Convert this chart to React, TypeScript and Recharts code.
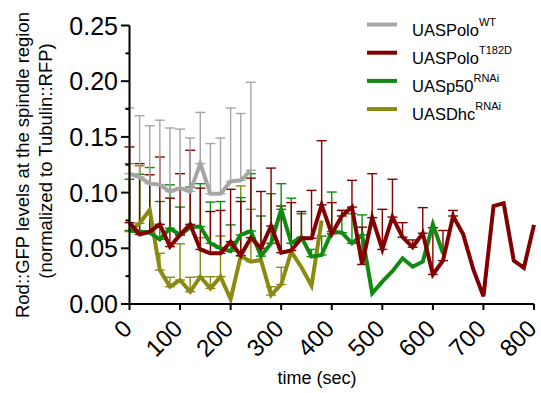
import React from 'react';
import { LineChart, Line, XAxis, YAxis, ErrorBar, Legend } from 'recharts';

const TIME = [0, 20, 40, 60, 80, 100, 120, 140, 160, 180, 200, 220, 240, 260, 280, 300, 320, 340, 360, 380, 400, 420, 440, 460, 480, 500, 520, 540, 560, 580, 600, 620, 640, 660, 680, 700, 720, 740, 760, 780, 800];

const X_TICKS = [0, 100, 200, 300, 400, 500, 600, 700, 800];
const Y_TICKS = [0, 0.025, 0.05, 0.075, 0.1, 0.125, 0.15, 0.175, 0.2, 0.225, 0.25];

// UASPolo WT
const WT_MEAN = [0.117, 0.114, 0.108, 0.107, 0.101, 0.104, 0.101, 0.126, 0.099, 0.099, 0.110, 0.111, 0.120];
const WT_SD = [0.059, 0.055, 0.052, 0.058, 0.057, 0.053, 0.048, 0.046, 0.045, 0.050, 0.066, 0.060, 0.079];

// UASPolo T182D
const T182D_MEAN = [0.073, 0.0625, 0.065, 0.0715, 0.0515, 0.062, 0.0715, 0.049, 0.0455, 0.0455, 0.056, 0.0435, 0.0595, 0.050, 0.070, 0.046, 0.048, 0.059, 0.059, 0.089, 0.063, 0.079, 0.087, 0.0355, 0.0775, 0.049, 0.078, 0.060, 0.051, 0.0635, 0.0265, 0.039, 0.079, 0.0625, 0.031, 0.007, 0.088, 0.0905, 0.039, 0.0325, 0.071];
const T182D_SD = [0.068, 0.0635, 0.051, 0.0605, 0.0435, 0.055, 0.0665, 0.055, 0.0375, 0.0385, 0.047, 0.0485, 0.0535, 0.051, 0.052, 0.042, 0.043, 0.024, 0.043, 0.0576, 0.028, 0.005, 0.024, 0.0335, 0.0395, 0.036, 0.034, 0.013, 0.0065, 0.023, 0.042, 0.027, 0.005, null, null, null, null, null, null, null, null];

// UASp50 RNAi
const P50_MEAN = [0.066, 0.065, 0.064, 0.058, 0.068, 0.062, 0.069, 0.0695, 0.0545, 0.050, 0.0475, 0.062, 0.0655, 0.043, 0.0545, 0.085, 0.0545, 0.060, 0.0425, 0.044, 0.065, 0.064, 0.0545, 0.062, 0.0096, 0.020, 0.0295, 0.041, 0.0335, 0.038, 0.0715, 0.0455];
const P50_SD = [0.046, 0.0515, 0.0585, 0.034, 0.039, 0.025, 0.036, 0.0385, 0.037, 0.042, 0.0235, 0.0335, 0.0515, 0.036, 0.0445, 0.023, 0.0405, 0.021, 0.0065, 0.017, 0.0355, 0.020, 0.0265, 0.018, null, null, null, null, null, null, null, null];

// UASDhc RNAi
const DHC_MEAN = [0.065, 0.0725, 0.0845, 0.0305, 0.0155, 0.0215, 0.011, 0.0245, 0.014, 0.0245, 0.0045, 0.043, 0.038, 0.0395, 0.008, 0.0175, 0.047, 0.033, 0.0165, 0.075];
const DHC_SD = [0.061, 0.0515, null, 0.015, 0.0085, 0.0325, 0.013, 0.035, 0.0105, 0.0365, null, 0.063, 0.047, null, 0.0075, 0.0155, null, null, null, null];

const SERIES_NAMES = ['UASPolo', 'UASPolo', 'UASp50', 'UASDhc'];
const SERIES_SUPS = ['WT', 'T182D', 'RNAi', 'RNAi'];
const COLORS = ['#a6a6a6', '#820000', '#118a11', '#8a8a12'];

const FONT = '"Liberation Sans", Arial, Helvetica, sans-serif';

function build(mean: number[], sd: (number | null)[]) {
  return mean.map((v, i) => ({
    t: TIME[i],
    v,
    e: sd[i] != null ? [0, sd[i] as number] : undefined,
  }));
}

const wtData = build(WT_MEAN, WT_SD);
const t182Data = build(T182D_MEAN, T182D_SD);
const p50Data = build(P50_MEAN, P50_SD);
const dhcData = build(DHC_MEAN, DHC_SD);

const SERIES = [
  { data: wtData, color: COLORS[0], name: 'UASPolo WT' },
  { data: t182Data, color: COLORS[1], name: 'UASPolo T182D' },
  { data: p50Data, color: COLORS[2], name: 'UASp50 RNAi' },
  { data: dhcData, color: COLORS[3], name: 'UASDhc RNAi' },
];
const DRAW_ORDER = [3, 2, 1, 0];

const PLOT_LEFT = 129.5;

const YTick = (props: any) => {
  const { y, payload } = props;
  const v = payload.value as number;
  const major = Math.abs(v * 20 - Math.round(v * 20)) < 1e-6;
  return (
    <g>
      <line x1={major ? 121 : 125.5} x2={PLOT_LEFT} y1={y} y2={y} stroke="#000" strokeWidth={2} />
      {major && (
        <text x={118} y={y} dy={9} textAnchor="end" fontSize={25} fill="#000" fontFamily={FONT}>
          {v.toFixed(2)}
        </text>
      )}
    </g>
  );
};

const XTick = (props: any) => {
  const { x, payload } = props;
  const ax = x + 4;
  const ay = 330;
  return (
    <text x={ax} y={ay} transform={`rotate(-45 ${ax} ${ay})`} textAnchor="end" fontSize={24} fill="#000" fontFamily={FONT}>
      {payload.value}
    </text>
  );
};

const YTitle = () => (
  <g fontFamily={FONT} fontSize={18.5} fill="#000">
    <text transform="translate(29,165) rotate(-90)" textAnchor="middle">Rod::GFP levels at the spindle region</text>
    <text transform="translate(52,161) rotate(-90)" textAnchor="middle">(normalized to Tubulin::RFP)</text>
  </g>
);

const XTitle = () => (
  <text x={317} y={384} textAnchor="middle" fontSize={18} fill="#000" fontFamily={FONT}>
    time (sec)
  </text>
);

const LegendBox = () => (
  <svg width={181} height={125} style={{ display: 'block' }}>
    {SERIES_NAMES.map((name, i) => {
      const y = 24.5 + i * 28.2;
      return (
        <g key={i}>
          <line x1={7} x2={37} y1={y} y2={y} stroke={COLORS[i]} strokeWidth={4} />
          <text x={52} y={y + 11} fontSize={16.5} fill="#000" fontFamily={FONT}>
            {name}
            <tspan fontSize={11} dy={-10}>{SERIES_SUPS[i]}</tspan>
          </text>
        </g>
      );
    })}
  </svg>
);

export default function App() {
  return (
    <div style={{ position: 'absolute', left: 0, top: 0, width: 541, height: 393, background: '#fff' }}>
      <LineChart width={541} height={393} margin={{ top: 25.5, right: 7, bottom: 29, left: 0 }}>
        <XAxis
          type="number"
          dataKey="t"
          domain={[0, 800]}
          ticks={X_TICKS}
          interval={0}
          height={60}
          tickSize={6}
          axisLine={{ stroke: '#000', strokeWidth: 2 }}
          tickLine={{ stroke: '#000', strokeWidth: 2 }}
          tick={<XTick />}
          label={<XTitle />}
          allowDuplicatedCategory={false}
        />
        <YAxis
          type="number"
          domain={[0, 0.25]}
          ticks={Y_TICKS}
          interval={0}
          width={129.5}
          axisLine={{ stroke: '#000', strokeWidth: 2 }}
          tickLine={false}
          tick={<YTick />}
          label={<YTitle />}
        />
        <Legend
          layout="vertical"
          align="center"
          verticalAlign="middle"
          content={<LegendBox />}
          wrapperStyle={{ position: 'absolute', left: 360, top: 0, width: 181, height: 125 }}
        />
        {DRAW_ORDER.map((i) => (
          <Line
            key={'err' + i}
            data={SERIES[i].data}
            dataKey="v"
            name={SERIES[i].name + ' SD'}
            type="linear"
            stroke="none"
            strokeWidth={0}
            dot={false}
            activeDot={false}
            legendType="none"
            isAnimationActive={false}
          >
            <ErrorBar dataKey="e" direction="y" width={5} stroke={SERIES[i].color} strokeWidth={1.4} />
          </Line>
        ))}
        {DRAW_ORDER.map((i) => (
          <Line
            key={'line' + i}
            data={SERIES[i].data}
            dataKey="v"
            name={SERIES[i].name}
            type="linear"
            stroke={SERIES[i].color}
            strokeWidth={4}
            dot={false}
            isAnimationActive={false}
            strokeLinejoin="miter"
          />
        ))}
      </LineChart>
    </div>
  );
}
